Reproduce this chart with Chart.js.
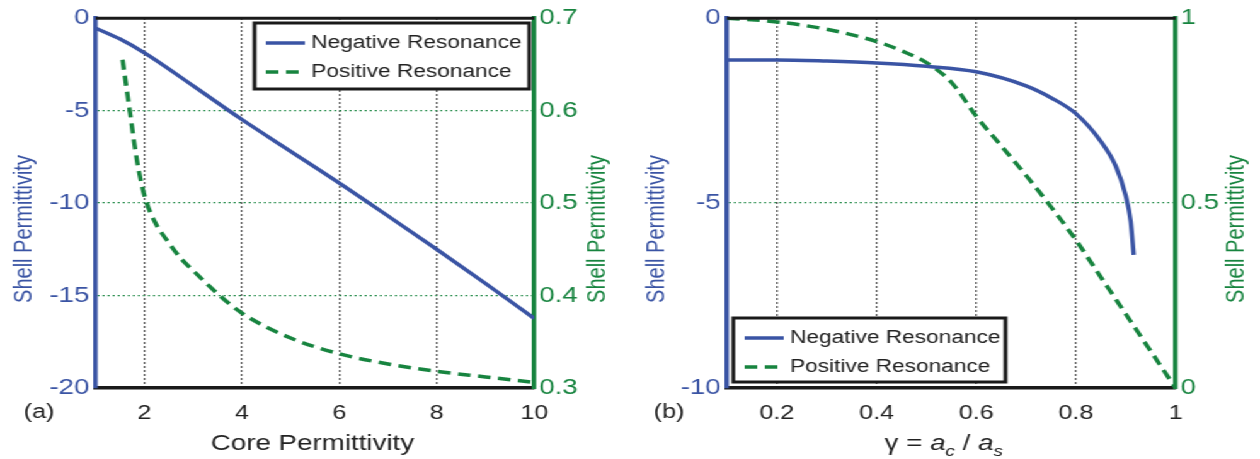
<!DOCTYPE html>
<html>
<head>
<meta charset="utf-8">
<script src="https://cdn.jsdelivr.net/npm/chart.js@4.4.1/dist/chart.umd.min.js"></script>
<style>
  html, body { margin: 0; padding: 0; background: #fff; overflow: hidden; }
  /* the original figure is stretched sideways, so the whole page is too */
  #page { position: absolute; left: 0; top: 0; width: 1000px; height: 459px; transform: scaleX(1.26); transform-origin: 0 0; }
  #page canvas { position: absolute; top: 0; }
</style>
</head>
<body>
<div id="page">
  <canvas id="graficoA" width="500" height="459" style="left:0px"></canvas>
  <canvas id="graficoB" width="500" height="459" style="left:500px"></canvas>
</div>
<script>
// (a) shell permittivity vs core permittivity
const coreNeg = [1, 1.5, 2, 3, 4, 5, 6, 7, 8, 9, 10];
const shellNegA = [-0.54, -1.13, -1.88, -3.66, -5.48, -7.2, -8.92, -10.7, -12.5, -14.35, -16.24];
const corePos = [1.55, 1.7, 1.85, 2, 2.2, 2.5, 2.75, 3, 3.5, 4, 5, 6, 7, 8, 9, 10];
const shellPosA = [0.655, 0.599, 0.545, 0.508, 0.481, 0.457, 0.44, 0.427, 0.402, 0.381, 0.354, 0.337, 0.326, 0.318, 0.312, 0.306];
const xTicksA = [2, 4, 6, 8, 10];
const yTicksA = [-20, -15, -10, -5, 0];
const y2TicksA = [0.3, 0.4, 0.5, 0.6, 0.7];

// (b) shell permittivity vs gamma = ac / as
const gammaNeg = [0.1, 0.2, 0.3, 0.4, 0.5, 0.6, 0.7, 0.75, 0.8, 0.85, 0.88, 0.9, 0.91, 0.916];
const shellNegB = [-1.13, -1.13, -1.16, -1.21, -1.3, -1.45, -1.83, -2.15, -2.58, -3.33, -4.0, -4.8, -5.5, -6.4];
const gammaPos = [0.1, 0.2, 0.3, 0.4, 0.45, 0.5, 0.55, 0.6, 0.65, 0.7, 0.75, 0.8, 0.85, 0.9, 0.95, 1.0];
const shellPosB = [1.0, 0.99, 0.97, 0.937, 0.912, 0.88, 0.827, 0.735, 0.655, 0.575, 0.49, 0.4, 0.3, 0.2, 0.1, 0.0];
const xTicksB = [0.2, 0.4, 0.6, 0.8, 1];
const yTicksB = [-10, -5, 0];
const y2TicksB = [0, 0.5, 1];

const seriesNames = ['Negative Resonance', 'Positive Resonance'];

const blue = '#3A54A4';
const green = '#17843F';
const black = '#1a1a1a';
const FONT = "'Liberation Sans', Arial, sans-serif";
const clear = 'rgba(0,0,0,0)';

const pts = (xs, ys) => xs.map((x, i) => ({ x: x, y: ys[i] }));

// frame top line, axis titles, panel letter and boxed legend
const paperPlugin = {
  id: 'paper',
  afterDraw(chart, args, o) {
    const ctx = chart.ctx;
    const a = chart.chartArea;
    ctx.save();

    ctx.strokeStyle = black;
    ctx.lineWidth = 3;
    ctx.beginPath();
    ctx.moveTo(a.left, a.top);
    ctx.lineTo(a.right, a.top);
    ctx.stroke();

    // y titles, both read bottom to top
    ctx.font = '20px ' + FONT;
    ctx.textAlign = 'center';
    ctx.textBaseline = 'middle';
    [[o.leftTitleX, blue], [o.rightTitleX, green]].forEach(([x, c]) => {
      ctx.save();
      ctx.translate(x, 229);
      ctx.rotate(-Math.PI / 2);
      ctx.fillStyle = c;
      ctx.fillText('Shell Permittivity', 0, 0);
      ctx.restore();
    });

    ctx.fillStyle = '#222';
    ctx.fillText(o.panel, 31, 412);

    // x title from text runs
    ctx.textAlign = 'left';
    ctx.textBaseline = 'alphabetic';
    const runFont = r => (r.italic ? 'italic ' : '') + (r.sub ? 15 : 22) + 'px ' + FONT;
    let total = 0;
    o.xTitle.forEach(r => { ctx.font = runFont(r); total += ctx.measureText(r.t).width; });
    let x = o.xTitleCenter - total / 2;
    o.xTitle.forEach(r => {
      ctx.font = runFont(r);
      ctx.fillText(r.t, x, 450 + (r.sub ? 6 : 0));
      x += ctx.measureText(r.t).width;
    });

    // legend
    const b = o.legendBox;
    ctx.fillStyle = '#fff';
    ctx.fillRect(b[0], b[1], b[2] - b[0], b[3] - b[1]);
    ctx.strokeStyle = black;
    ctx.lineWidth = 3;
    ctx.strokeRect(b[0], b[1], b[2] - b[0], b[3] - b[1]);
    ctx.font = '18px ' + FONT;
    ctx.textBaseline = 'middle';
    chart.data.datasets.forEach((ds, i) => {
      const y = b[1] + 20 + i * 29;
      ctx.strokeStyle = ds.borderColor;
      ctx.lineWidth = 3.5;
      ctx.setLineDash(ds.borderDash || []);
      ctx.beginPath();
      ctx.moveTo(b[0] + 9, y);
      ctx.lineTo(b[0] + 40, y);
      ctx.stroke();
      ctx.setLineDash([]);
      ctx.fillStyle = '#222';
      ctx.fillText(ds.label, b[0] + 45, y);
    });
    ctx.restore();
  }
};

function makeChart(id, c) {
  const xFont = { family: FONT, size: 20 };
  const yFont = { family: FONT, size: 22 };
  return new Chart(document.getElementById(id), {
    type: 'line',
    data: {
      datasets: [{
        label: seriesNames[0],
        data: pts(c.xNeg, c.yNeg),
        yAxisID: 'y',
        borderColor: blue,
        borderWidth: 3.5,
        pointRadius: 0,
        cubicInterpolationMode: 'monotone'
      }, {
        label: seriesNames[1],
        data: pts(c.xPos, c.yPos),
        yAxisID: 'y2',
        borderColor: green,
        borderWidth: 3.5,
        borderDash: [10, 6],
        pointRadius: 0,
        cubicInterpolationMode: 'monotone'
      }]
    },
    options: {
      responsive: false,
      animation: false,
      layout: { padding: { top: 16, left: 0, right: 0, bottom: 0 } },
      plugins: { legend: { display: false }, tooltip: { enabled: false }, paper: c.paper },
      scales: {
        x: {
          type: 'linear',
          min: c.xMin, max: c.xTicks[c.xTicks.length - 1],
          afterBuildTicks: s => { s.ticks = c.xTicks.map(v => ({ value: v })); },
          afterFit: s => { s.height = 71; },
          grid: { color: ctx => (ctx.tick && ctx.tick.value === c.xTicks[c.xTicks.length - 1]) ? clear : black, lineWidth: 1.3, drawTicks: false },
          border: { color: black, width: 3.5, dash: [1.5, 2.5] },
          ticks: { color: '#222', font: xFont, padding: 13, maxRotation: 0, autoSkip: false, callback: v => String(v) }
        },
        y: {
          position: 'left',
          min: c.yTicks[0], max: c.yTicks[c.yTicks.length - 1],
          afterBuildTicks: s => { s.ticks = c.yTicks.map(v => ({ value: v })); },
          afterFit: s => { s.width = c.leftW; },
          grid: { color: ctx => (ctx.tick && (ctx.tick.value === c.yTicks[0] || ctx.tick.value === c.yTicks[c.yTicks.length - 1])) ? clear : green, lineWidth: 1.3, drawTicks: false },
          border: { color: blue, width: 3.5, dash: [1.5, 2.5] },
          ticks: { color: blue, font: yFont, padding: 5, callback: v => String(v) }
        },
        y2: {
          position: 'right',
          min: c.y2Ticks[0], max: c.y2Ticks[c.y2Ticks.length - 1],
          afterBuildTicks: s => { s.ticks = c.y2Ticks.map(v => ({ value: v })); },
          afterFit: s => { s.width = c.rightW; },
          grid: { drawOnChartArea: false, drawTicks: false },
          border: { color: green, width: 3.5 },
          ticks: { color: green, font: yFont, padding: 4, callback: v => String(v) }
        }
      }
    },
    plugins: [paperPlugin]
  });
}

const graficoA = makeChart('graficoA', {
  xNeg: coreNeg, yNeg: shellNegA, xPos: corePos, yPos: shellPosA,
  xMin: 1, xTicks: xTicksA, yTicks: yTicksA, y2Ticks: y2TicksA,
  leftW: 76, rightW: 76,
  paper: {
    panel: '(a)', leftTitleX: 19, rightTitleX: 474,
    xTitle: [{ t: 'Core Permittivity' }], xTitleCenter: 248,
    legendBox: [202, 23, 420, 89]
  }
});

const graficoB = makeChart('graficoB', {
  xNeg: gammaNeg, yNeg: shellNegB, xPos: gammaPos, yPos: shellPosB,
  xMin: 0.1, xTicks: xTicksB, yTicks: yTicksB, y2Ticks: y2TicksB,
  leftW: 77, rightW: 67,
  paper: {
    panel: '(b)', leftTitleX: 21, rightTitleX: 481,
    xTitle: [{ t: 'γ = ' }, { t: 'a', italic: true }, { t: 'c', italic: true, sub: true }, { t: ' / ' }, { t: 'a', italic: true }, { t: 's', italic: true, sub: true }],
    xTitleCenter: 249,
    legendBox: [82, 318, 298, 382]
  }
});
</script>
</body>
</html>
